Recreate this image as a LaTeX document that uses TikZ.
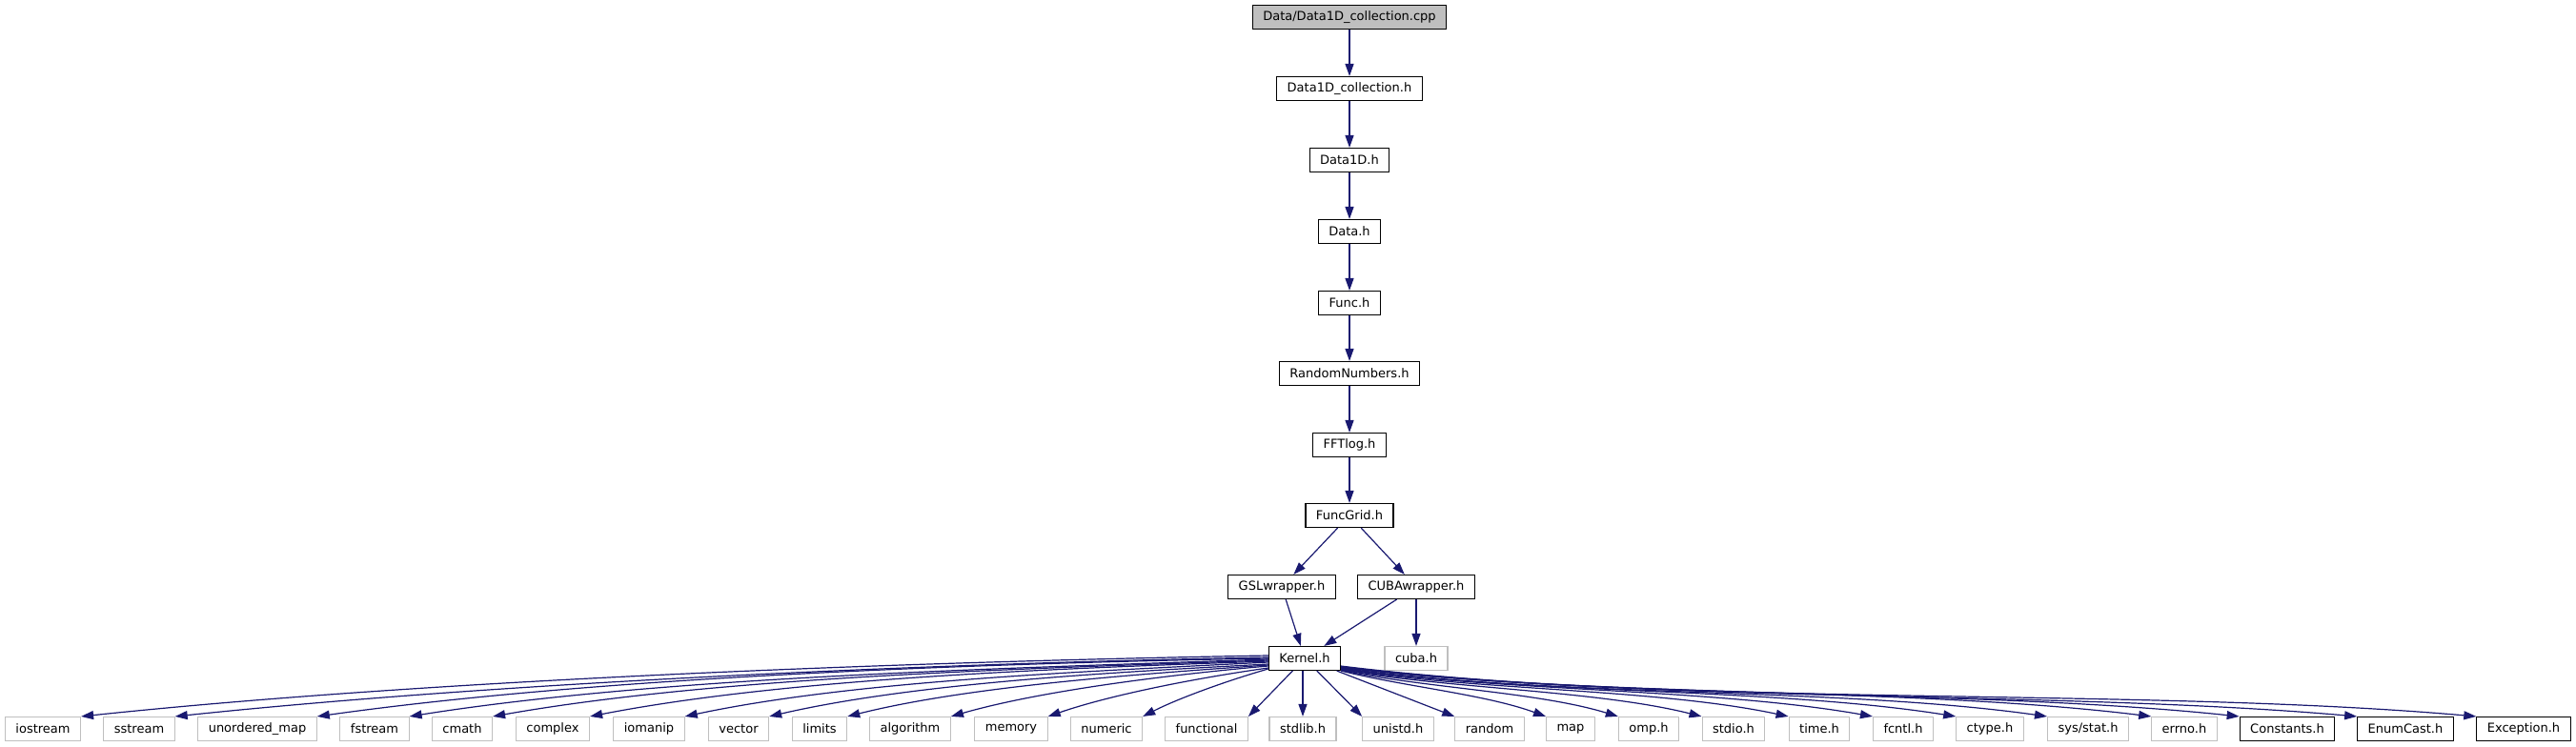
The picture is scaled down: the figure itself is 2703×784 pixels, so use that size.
\documentclass[tikz,border=0pt]{standalone}
\usepackage{fontspec}
\setmainfont{DejaVu Sans}
\usepackage{tikz}
\usetikzlibrary{arrows.meta}
\definecolor{col1}{HTML}{191970}
\definecolor{col2}{HTML}{BFBFBF}
\definecolor{col3}{HTML}{000000}

\begin{document}
\begin{tikzpicture}[x=1pt, y=1pt]
    \tikzstyle{rnb} += [draw=col3, fill=white, rectangle, line width=1.1pt, inner xsep=11pt, minimum height=25pt, font=\fontsize{13}{15}\selectfont];
    \tikzstyle{rng} += [rnb, draw=col2];
    \tikzstyle{rtop} += [rnb, fill=col2];
    \tikzstyle{edg} += [col1, line width=1.2pt, -{Triangle[length=13pt, width=9pt]}];
    \useasboundingbox (0,0) rectangle (2703,784);

    \node (src) at (1416, 766) [rtop] {Data/Data1D\_collection.cpp};
    \node (d1c) at (1416, 691) [rnb] {Data1D\_collection.h};
    \node (d_1) at (1416, 616) [rnb] {Data1D.h};
    \node (dat) at (1416, 541) [rnb] {Data.h};
    \node (fun) at (1416, 466) [rnb] {Func.h};
    \node (rnd) at (1416, 392) [rnb] {RandomNumbers.h};
    \node (fft) at (1416, 317) [rnb] {FFTlog.h};
    \node (grd) at (1416, 243) [rnb] {FuncGrid.h};
    \node (gsl) at (1345, 168) [rnb] {GSLwrapper.h};
    \node (cbw) at (1486, 168) [rnb] {CUBAwrapper.h};
    \node (krn) at (1369,  93) [rnb] {Kernel.h};
    \node (cba) at (1486,  93) [rng] {cuba.h};

    \node (h_1)  at (  45, 19) [rng] {iostream};
    \node (h_2)  at ( 146, 19) [rng] {sstream};
    \node (h_3)  at ( 270, 19) [rng] {unordered\_map};
    \node (h_4)  at ( 393, 19) [rng] {fstream};
    \node (h_5)  at ( 485, 19) [rng] {cmath};
    \node (h_6)  at ( 580, 19) [rng] {complex};
    \node (h_7)  at ( 681, 19) [rng] {iomanip};
    \node (h_8)  at ( 775, 19) [rng] {vector};
    \node (h_9)  at ( 860, 19) [rng] {limits};
    \node (h_10) at ( 955, 19) [rng] {algorithm};
    \node (h_11) at (1061, 19) [rng] {memory};
    \node (h_12) at (1161, 19) [rng] {numeric};
    \node (h_13) at (1266, 19) [rng] {functional};
    \node (h_14) at (1367, 19) [rng] {stdlib.h};
    \node (h_15) at (1467, 19) [rng] {unistd.h};
    \node (h_16) at (1563, 19) [rng] {random};
    \node (h_17) at (1648, 19) [rng] {map};
    \node (h_18) at (1730, 19) [rng] {omp.h};
    \node (h_19) at (1819, 19) [rng] {stdio.h};
    \node (h_20) at (1909, 19) [rng] {time.h};
    \node (h_21) at (1997, 19) [rng] {fcntl.h};
    \node (h_22) at (2088, 19) [rng] {ctype.h};
    \node (h_23) at (2191, 19) [rng] {sys/stat.h};
    \node (h_24) at (2292, 19) [rng] {errno.h};
    \node (h_25) at (2400, 19) [rnb] {Constants.h};
    \node (h_26) at (2524, 19) [rnb] {EnumCast.h};
    \node (h_27) at (2648, 19) [rnb] {Exception.h};

    \begin{scope}[edg]
      \draw (src) -- (d1c);
      \draw (d1c) -- (d_1);
      \draw (d_1) -- (dat);
      \draw (dat) -- (fun);
      \draw (fun) -- (rnd);
      \draw (rnd) -- (fft);
      \draw (fft) -- (grd);
      \draw (grd) -- (gsl);
      \draw (grd) -- (cbw);
      \draw (gsl) -- (krn);
      \draw (cbw) -- (krn);
      \draw (cbw) -- (cba);
      % left fan
      \draw ([yshift=3pt]krn.west)   .. controls +(181:374) and +(6:374)  .. (h_1.north east);
      \draw ([yshift=1pt]krn.west)   .. controls +(181:344) and +(6:344)  .. (h_2.north east);
      \draw ([yshift=0pt]krn.west)   .. controls +(181:300) and +(8:300)  .. (h_3.north east);
      \draw ([yshift=-1pt]krn.west)  .. controls +(182:270) and +(9:270)  .. (h_4.north east);
      \draw ([yshift=-2pt]krn.west)  .. controls +(182:245) and +(10:245) .. (h_5.north east);
      \draw ([yshift=-3pt]krn.west)  .. controls +(182:214) and +(11:214) .. (h_6.north east);
      \draw ([yshift=-4pt]krn.west)  .. controls +(183:184) and +(12:184) .. (h_7.north east);
      \draw ([yshift=-6pt]krn.west)  .. controls +(183:158) and +(13:158) .. (h_8.north east);
      \draw ([yshift=-7pt]krn.west)  .. controls +(184:133) and +(14:133) .. (h_9.north east);
      \draw ([yshift=-8pt]krn.west)  .. controls +(185:100) and +(16:100) .. (h_10.north east);
      \draw ([yshift=-10pt]krn.west) .. controls +(188:72)  and +(19:72)  .. (h_11.north east);
      \draw ([yshift=-11pt]krn.west) .. controls +(196:43)  and +(27:43)  .. (h_12.north east);
      \draw (krn) -- (h_13.north east);
      \draw (krn.south -| h_14) -- (h_14);
      \draw (krn) -- (h_15.north west);
      \draw (krn) -- (h_16.north west);
      % right fan, under cuba.h
      \draw ([yshift=0pt]krn.south east)   .. controls +(-14:68)  and +(160:68)  .. (h_17.north west);
      \draw ([yshift=0.5pt]krn.south east) .. controls +(-12:88)  and +(163:88)  .. (h_18.north west);
      \draw ([yshift=1pt]krn.south east)   .. controls +(-10:114) and +(166:114) .. (h_19.north west);
      \draw ([yshift=1.5pt]krn.south east) .. controls +(-9:141)  and +(168:141) .. (h_20.north west);
      \draw ([yshift=2pt]krn.south east)   .. controls +(-8:168)  and +(170:168) .. (h_21.north west);
      \draw ([yshift=2.5pt]krn.south east) .. controls +(-8:194)  and +(171:194) .. (h_22.north west);
      \draw ([yshift=3pt]krn.south east)   .. controls +(-8:223)  and +(172:223) .. (h_23.north west);
      \draw ([yshift=3.5pt]krn.south east) .. controls +(-7:256)  and +(173:256) .. (h_24.north west);
      \draw ([yshift=4pt]krn.south east)   .. controls +(-7:284)  and +(174:284) .. (h_25.north west);
      \draw ([yshift=4.5pt]krn.south east) .. controls +(-7:320)  and +(175:320) .. (h_26.north west);
      \draw ([yshift=5pt]krn.south east)   .. controls +(-7:358)  and +(175:358) .. (h_27.north west);
    \end{scope}
\end{tikzpicture}
\end{document}
